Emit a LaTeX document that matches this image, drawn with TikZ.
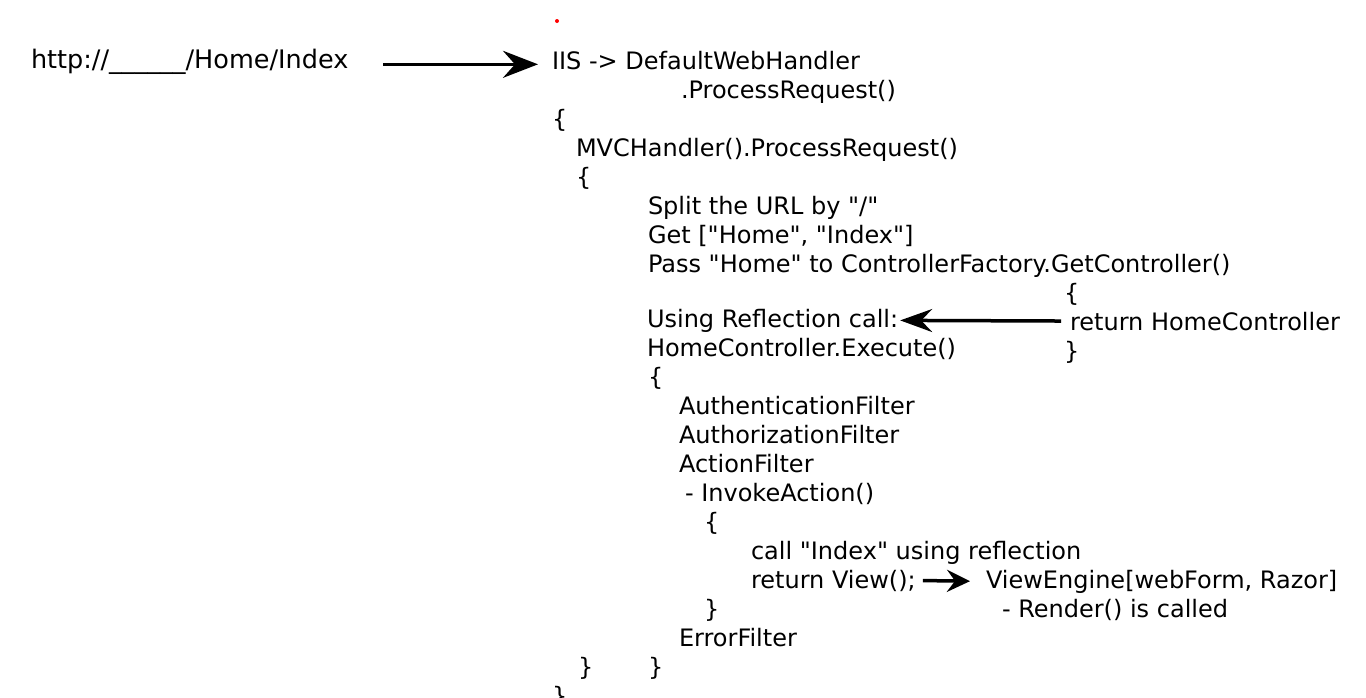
\documentclass[tikz,border=0pt]{standalone}
\usepackage{fontspec}
\setmainfont{DejaVu Sans}
\usetikzlibrary{arrows.meta}
\newcommand\qt{\textquotedbl}
\tikzset{
	code/.style={anchor=base west,inner sep=0,outer sep=0,font=\fontsize{24}{29}\selectfont},
	flow/.style={line width=3.5pt},
	bighead/.style={-{Stealth[length=35pt,width=27pt,inset=12pt]}},
	midhead/.style={-{Stealth[length=32pt,width=23pt,inset=11pt]}},
	smallhead/.style={-{Stealth[length=23pt,width=22pt,inset=8pt]}}
}

\begin{document}
\begin{tikzpicture}[x=1pt,y=-1pt]
		\useasboundingbox (0,0) rectangle (1366,697);

		\fill[red] (557,21) circle (2);

		\node[code,font=\fontsize{25.5}{29}\selectfont] (url) at (31,68) {http://\_\_\_\_\_\_/Home/Index};
		\node[code] (iis) at (552,69) {IIS -> DefaultWebHandler};
		\node[code] (procreq) at (681,98) {.ProcessRequest()};
		\node[code] (open1) at (552,127) {\{};
		\node[code] (mvc) at (576,156) {MVCHandler().ProcessRequest()};
		\node[code] (open2) at (576,185) {\{};
		\node[code] (split) at (648,214) {Split the URL by \qt/\qt};
		\node[code] (get) at (648,243) {Get [\qt Home\qt, \qt Index\qt]};
		\node[code] (pass) at (648,272) {Pass \qt Home\qt{} to ControllerFactory.GetController()};

		\node[code] (open3) at (1064,301) {\{};
		\node[code] (ret) at (1070,330) {return HomeController};
		\node[code] (close3) at (1064,359) {\}};

		\node[code] (using) at (647,327) {Using Reflection call:};
		\node[code] (exec) at (647,356) {HomeController.Execute()};
		\node[code] (open4) at (648,385) {\{};
		\node[code] (authn) at (679,414) {AuthenticationFilter};
		\node[code] (authz) at (679,443) {AuthorizationFilter};
		\node[code] (action) at (679,472) {ActionFilter};
		\node[code] (invoke) at (685,501) {- InvokeAction()};
		\node[code] (open5) at (704,530) {\{};
		\node[code] (callidx) at (751,559) {call \qt Index\qt{} using reflection};
		\node[code] (retview) at (751,588) {return View();};
		\node[code] (close5) at (704,617) {\}};
		\node[code] (error) at (679,646) {ErrorFilter};
		\node[code] (close2) at (578,675) {\}};
		\node[code] (close4) at (648,675) {\}};
		\node[code] (close1) at (552,704) {\}};

		\node[code] (engine) at (986,588) {ViewEngine[webForm, Razor]};
		\node[code] (render) at (1002,617) {- Render() is called};

		\draw [flow,bighead,shorten <=35pt,shorten >=14pt] ([yshift=-3pt]url.east) -- ([yshift=-3pt]url.east -| iis.west);
		\draw [flow,midhead,shorten <=9pt,shorten >=2pt] (ret.west) -- (using.east);
		\draw [flow,smallhead,shorten <=7pt,shorten >=16pt] (retview.east) -- (engine.west);
	\end{tikzpicture}
\end{document}
